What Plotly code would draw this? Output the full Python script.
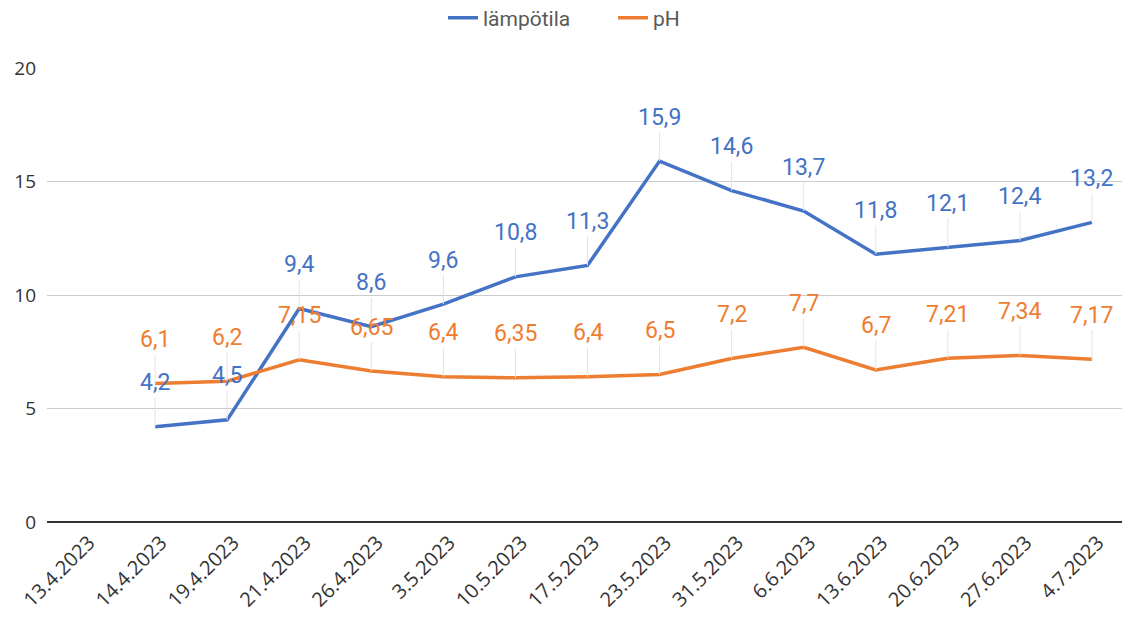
import plotly.graph_objects as go

dates = ["13.4.2023", "14.4.2023", "19.4.2023", "21.4.2023", "26.4.2023", "3.5.2023",
         "10.5.2023", "17.5.2023", "23.5.2023", "31.5.2023", "6.6.2023", "13.6.2023",
         "20.6.2023", "27.6.2023", "4.7.2023"]
temp = [None, 4.2, 4.5, 9.4, 8.6, 9.6, 10.8, 11.3, 15.9, 14.6, 13.7, 11.8, 12.1, 12.4, 13.2]
ph = [None, 6.1, 6.2, 7.15, 6.65, 6.4, 6.35, 6.4, 6.5, 7.2, 7.7, 6.7, 7.21, 7.34, 7.17]

BLUE = "#4472C4"
ORANGE = "#ED7D31"

fig = go.Figure()
fig.add_trace(go.Scatter(x=dates, y=temp, mode="lines", name="lämpötila",
                         line=dict(color=BLUE, width=3.5)))
fig.add_trace(go.Scatter(x=dates, y=ph, mode="lines", name="pH",
                         line=dict(color=ORANGE, width=3.5)))

def fmt(v):
    return ("%g" % v).replace(".", ",")

annotations = []
for series, color in ((temp, BLUE), (ph, ORANGE)):
    for d, v in zip(dates, series):
        if v is None:
            continue
        annotations.append(dict(
            x=d, y=v, xref="x", yref="y", text=fmt(v),
            showarrow=True, arrowhead=0, arrowwidth=1, arrowcolor="#e3e3e3",
            ax=0, ay=-44, standoff=0,
            font=dict(family="Roboto", size=23, color=color),
        ))

W, H = 1122, 613
fig.update_layout(
    width=W, height=H,
    margin=dict(l=39, r=2, t=60, b=99, autoexpand=False),
    paper_bgcolor="white", plot_bgcolor="white",
    showlegend=True,
    legend=dict(orientation="h", x=411 / W, xanchor="left", y=1 - 10 / H,
                yref="container", yanchor="middle", entrywidth=125, entrywidthmode="pixels",
                font=dict(family="Roboto", size=21, color="#595959"),
                tracegroupgap=0),
    annotations=annotations,
    xaxis=dict(type="category", range=[-0.5, 14.5], showgrid=False, tickangle=-45,
               tickfont=dict(family="Open Sans", size=20, color="#333333"),
               ticklabelstandoff=4, ticklabelshift=6,
               showline=False, zeroline=False, ticks="", automargin=False),
    yaxis=dict(range=[0, 20], tickvals=[0, 5, 10, 15, 20], showgrid=True,
               gridcolor="#cccccc", gridwidth=1, zeroline=True, zerolinecolor="#333333",
               zerolinewidth=2, ticklabelstandoff=10, automargin=False,
               tickfont=dict(family="Open Sans", size=19, color="#333333")),
)

fig.write_html("out.html")
